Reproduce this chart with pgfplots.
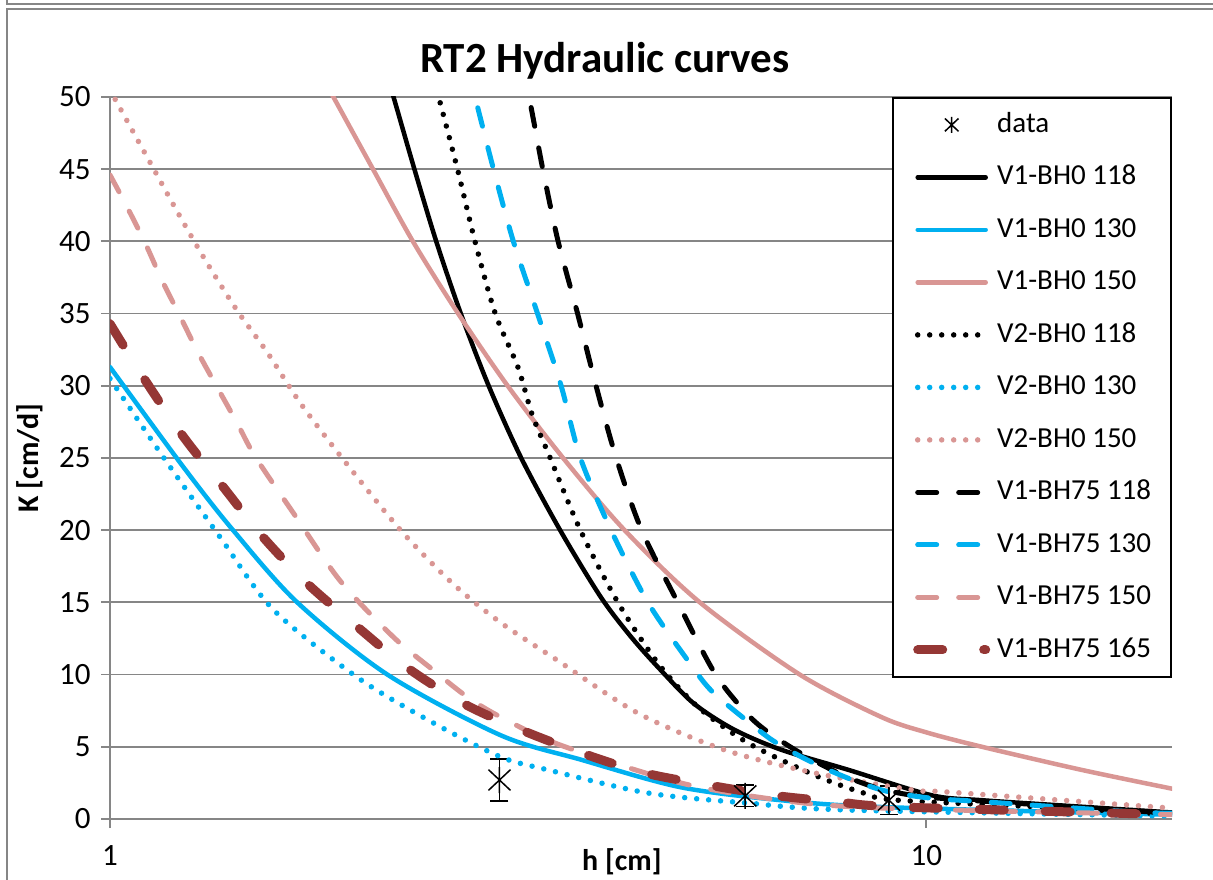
\documentclass[border=0pt]{standalone}
\usepackage{pgfplots}
\pgfplotsset{compat=1.18}
\usepackage{fontspec}
\setmainfont{Carlito}
\definecolor{cblue}{HTML}{00B0F0}
\definecolor{csalmon}{HTML}{D99694}
\definecolor{cdred}{HTML}{953735}
\definecolor{cgrid}{HTML}{868686}
\pgfdeclareplotmark{xstar}{%
  \pgfpathmoveto{\pgfqpoint{0pt}{\pgfplotmarksize}}%
  \pgfpathlineto{\pgfqpoint{0pt}{-\pgfplotmarksize}}%
  \pgfpathmoveto{\pgfqpoint{-0.85\pgfplotmarksize}{0.8\pgfplotmarksize}}%
  \pgfpathlineto{\pgfqpoint{0.85\pgfplotmarksize}{-0.8\pgfplotmarksize}}%
  \pgfpathmoveto{\pgfqpoint{-0.85\pgfplotmarksize}{-0.8\pgfplotmarksize}}%
  \pgfpathlineto{\pgfqpoint{0.85\pgfplotmarksize}{0.8\pgfplotmarksize}}%
  \pgfusepathqstroke}
\tikzset{
  solidc/.style={line width=4.5bp, line cap=round, line join=round},
  dotc/.style={line width=5.5bp, line cap=round, dash pattern=on 0bp off 12bp},
  dashc/.style={line width=5bp, line cap=round, dash pattern=on 19bp off 22bp},
  bigdash/.style={line width=9bp, line cap=round, dash pattern=on 25bp off 41bp},
}
\begin{document}
\begin{tikzpicture}
\useasboundingbox (0,0) rectangle (1213bp,880bp);
\draw[cgrid, line width=1.5bp] (7bp,880bp) -- (7bp,876bp) -- (1213bp,876bp);
\draw[cgrid, line width=1.5bp] (1213bp,871bp) -- (7bp,871bp) -- (7bp,0bp);
\begin{axis}[
  at={(110bp,61bp)}, anchor=south west,
  scale only axis, width=1062bp, height=722bp,
  xmode=log, xmin=1, xmax=20, ymin=0, ymax=50,
  xtick={1,10}, xticklabels={1,10}, xminorticks=false,
  ytick={0,5,...,50},
  ymajorgrids, grid style={cgrid, line width=1.8bp},
  axis lines*=left, axis line style={cgrid, line width=1.8bp},
  tick align=outside, major tick length=9bp, tick style={cgrid, line width=1.8bp},
  tick label style={font=\fontsize{31bp}{36bp}\selectfont},
  xticklabel style={yshift=-14bp},
  yticklabel style={xshift=-7bp},
  /pgf/number format/assume math mode=true,
  title={RT2 Hydraulic curves},
  title style={font=\fontsize{43bp}{50bp}\selectfont\bfseries, at={(0.466,1)}, anchor=base, yshift=19bp},
  xlabel={h [cm]}, ylabel={K [cm/d]},
  label style={font=\fontsize{30bp}{36bp}\selectfont\bfseries},
  xlabel style={at={(axis description cs:0.482,-0.0596)}, anchor=center},
  ylabel style={at={(axis description cs:-0.0753,0.5)}, anchor=center},
  legend cell align=left,
  legend style={at={(1,1)}, anchor=north east, draw=black, line width=1.8bp, fill=white,
    font=\fontsize{29bp}{34bp}\selectfont, inner xsep=20bp, inner ysep=13.5bp, row sep=25.5bp,
    nodes={inner sep=0pt, text height=21bp, text depth=6bp},
    /tikz/every odd column/.append style={column sep=7bp}},
  legend image code/.code={\draw[mark repeat=2,mark phase=2,#1] plot coordinates {(0bp,0bp) (34bp,0bp) (68bp,0bp)};},
  legend image post style={mark size=8bp},
]
% data
\addplot[only marks, mark=xstar, mark size=13bp, black, line width=1.5bp,
  error bars/.cd, y dir=both, y explicit,
  error bar style={line width=1.5bp, black},
  error mark options={line width=1.5bp, mark size=9bp, black, rotate=90}]
  coordinates {(3.0,2.7) +- (0,1.45) (6.0,1.6) +- (0,0.75) (9.0,1.3) +- (0,1.0)};
\addlegendentry{data}
% V1-BH0 118
\addplot[black, solidc, smooth] coordinates {(2.17,52) (2.225,50) (2.36,45) (2.51,40) (2.69,35) (2.91,30) (3.19,25) (3.56,20) (3.99,15.4) (4.35,12.6) (4.73,10.3) (5.19,8.0) (5.81,6.2) (6.64,4.8) (8.03,3.4) (10.14,1.65) (11.7,1.3) (15.5,0.85) (20,0.45)};
\addlegendentry{V1-BH0 118}
% V1-BH0 130
\addplot[cblue, solidc, smooth] coordinates {(1,31.3) (1.229,24.4) (1.415,20) (1.696,15) (2.187,10) (3.01,5.8) (3.78,4.1) (5.0,2.2) (6.64,1.3) (8.81,0.83) (20,0.3)};
\addlegendentry{V1-BH0 130}
% V1-BH0 150
\addplot[csalmon, solidc, smooth] coordinates {(1.795,52) (1.878,50) (2.10,45) (2.35,40) (2.67,35) (3.07,30) (3.59,25) (4.27,20) (5.28,15) (7.0,10) (8.81,7.06) (10.0,6.0) (11.7,5.0) (15.5,3.4) (20,2.1)};
\addlegendentry{V1-BH0 150}
% V2-BH0 118
\addplot[black, dotc, smooth] coordinates {(2.47,52) (2.527,50) (2.665,45) (2.80,40) (2.965,35) (3.16,31.3) (3.29,28.0) (3.45,25.2) (3.77,20) (4.19,15) (4.69,10.8) (5.25,7.76) (6.05,5.26) (7.29,3.05) (8.38,1.8) (9.23,1.3) (14.8,0.76) (20,0.28)};
\addlegendentry{V2-BH0 118}
% V2-BH0 130
\addplot[cblue, dotc, smooth] coordinates {(1,30.5) (1.161,25.1) (1.365,19.5) (1.585,14.5) (2.01,9.8) (2.49,6.65) (3.01,4.3) (3.44,3.4) (4.56,1.8) (6.05,1.1) (8.03,0.62) (20,0.2)};
\addlegendentry{V2-BH0 130}
% V2-BH0 150
\addplot[csalmon, dotc, smooth] coordinates {(1,50.5) (1.011,50) (1.129,45.1) (1.219,41.7) (1.315,38.5) (1.432,35.2) (1.559,32.3) (1.711,28.8) (1.931,24.9) (2.27,20) (2.63,16.3) (3.01,13.6) (3.53,11.0) (4.43,7.34) (5.65,4.8) (7.28,3.2) (9.66,2.0) (10.6,1.87) (20,0.75)};
\addlegendentry{V2-BH0 150}
% V1-BH75 118
\addplot[black, dashc, smooth] coordinates {(3.18,52) (3.26,50) (3.39,45) (3.54,40) (3.74,35) (3.94,30) (4.17,25) (4.48,20) (4.96,15) (5.52,10) (6.1,7.0) (6.6,5.5) (7.2,4.2) (8.0,2.9) (8.9,2.0) (10.1,1.5) (12.8,1.1) (18.7,0.5) (20,0.4)};
\addlegendentry{V1-BH75 118}
% V1-BH75 130
\addplot[cblue, dashc, smooth] coordinates {(2.74,52) (2.80,50) (2.95,45) (3.12,40) (3.34,35) (3.57,30) (3.77,25) (4.11,20) (4.56,15) (5.1,11.0) (5.45,8.9) (6.0,6.9) (6.5,5.4) (7.2,4.0) (8.0,2.85) (8.9,1.95) (10.1,1.45) (11.7,1.2) (17.8,0.5) (20,0.4)};
\addlegendentry{V1-BH75 130}
% V1-BH75 150
\addplot[csalmon, dashc, smooth] coordinates {(1,44.6) (1.049,42.4) (1.104,39.9) (1.158,37.3) (1.219,34.8) (1.282,32.3) (1.353,29.9) (1.432,27.4) (1.506,25.1) (1.677,21.2) (1.914,16.5) (2.224,12.6) (2.49,10.3) (2.74,8.45) (3.01,7.06) (3.57,5.1) (5.0,2.5) (6.64,1.3) (8.81,0.76) (20,0.3)};
\addlegendentry{V1-BH75 150}
% V1-BH75 165
\addplot[cdred, bigdash, smooth] coordinates {(1,34.3) (1.098,30.6) (1.229,26.5) (1.376,23.0) (1.541,19.5) (1.745,16.3) (2.01,13.3) (2.31,10.5) (2.71,8.0) (3.18,6.2) (3.77,4.6) (4.51,3.2) (5.41,2.35) (6.45,1.66) (7.79,1.18) (9.31,0.83) (20,0.3)};
\addlegendentry{V1-BH75 165}
\end{axis}
\end{tikzpicture}
\end{document}
